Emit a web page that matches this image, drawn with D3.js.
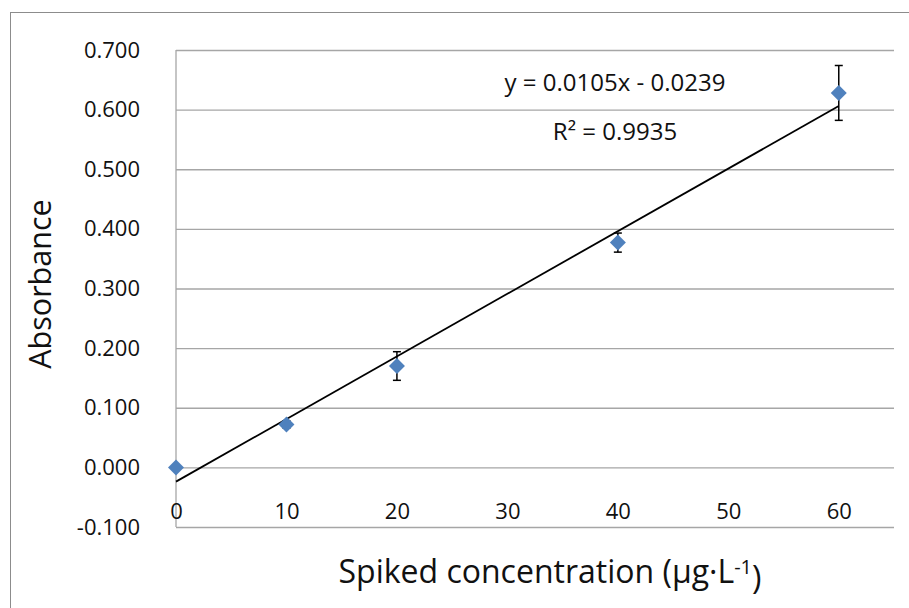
<!DOCTYPE html>
<html>
<head>
<meta charset="utf-8">
<script src="https://cdn.jsdelivr.net/npm/d3@7"></script>
<style>
  body { margin: 0; background: #fff; }
  text { font-family: "Open Sans", "Noto Sans", sans-serif; fill: #111; }
</style>
</head>
<body>
<div id="canvas"></div>
<script>
// data
var conc = [0, 10, 20, 40, 60];
var absorb = [0.000, 0.072, 0.170, 0.377, 0.628];
var errs = [0, 0.006, 0.024, 0.016, 0.046];
var xTicks = [0, 10, 20, 30, 40, 50, 60];
var yTicks = [-0.1, 0, 0.1, 0.2, 0.3, 0.4, 0.5, 0.6, 0.7];
var slope = 0.0105, intercept = -0.0239, r2 = 0.9935;

var W = 909, H = 608;
var m = {t:50, r:15, b:81, l:176};
var w = W - m.l - m.r,
    h = H - m.t - m.b;

var svg = d3.select('#canvas')
    .append('svg')
    .attr('width', W)
    .attr('height', H);

// chart border (right/bottom fall outside the picture)
svg.append('rect')
    .attr('x', 10.5).attr('y', 12.5)
    .attr('width', W + 10).attr('height', H + 10)
    .attr('fill', 'none')
    .attr('stroke', '#8c8c8c');

var plot = svg.append('g')
    .attr('transform', 'translate(' + m.l + ',' + m.t + ')');

var scaleX = d3.scaleLinear().domain([0, 65]).range([0, w]);
var scaleY = d3.scaleLinear().domain([-0.1, 0.7]).range([h, 0]);

// y axis + gridlines
var axisY = d3.axisLeft(scaleY)
    .tickValues(yTicks)
    .tickFormat(function(d){ return d.toFixed(3); })
    .tickSize(-w)
    .tickPadding(36);

var gy = plot.append('g').attr('class', 'axis-y').call(axisY);
gy.select('.domain').remove();
gy.selectAll('line').attr('stroke', '#a6a6a6').attr('stroke-width', 1.3).attr('x1', 0);
gy.selectAll('text').style('font-size', '22px').attr('fill', '#111');

// left axis line
plot.append('line')
    .attr('x1', 0).attr('x2', 0)
    .attr('y1', 0).attr('y2', h)
    .attr('stroke', '#a6a6a6').attr('stroke-width', 1.3);

// x labels sit just above the bottom line
var axisX = d3.axisTop(scaleX)
    .tickValues(xTicks)
    .tickSize(0)
    .tickPadding(8);
var gx = plot.append('g')
    .attr('transform', 'translate(0,' + h + ')')
    .call(axisX);
gx.select('.domain').remove();
gx.selectAll('text').style('font-size', '22px').attr('fill', '#111');

// trend line over data range
var xr = d3.extent(conc);
plot.append('line')
    .attr('x1', scaleX(xr[0])).attr('y1', scaleY(slope * xr[0] + intercept))
    .attr('x2', scaleX(xr[1])).attr('y2', scaleY(slope * xr[1] + intercept))
    .attr('stroke', '#000').attr('stroke-width', 1.8);

var pts = conc.map(function(c, i){ return {x: c, y: absorb[i], e: errs[i]}; });

// error bars
var eb = plot.selectAll('.err').data(pts.filter(function(d){ return d.e > 0; }))
    .enter().append('g').attr('class', 'err')
    .attr('stroke', '#000').attr('stroke-width', 1.5);
eb.append('line')
    .attr('x1', function(d){ return scaleX(d.x); })
    .attr('x2', function(d){ return scaleX(d.x); })
    .attr('y1', function(d){ return scaleY(d.y + d.e); })
    .attr('y2', function(d){ return scaleY(d.y - d.e); });
[1, -1].forEach(function(s){
    eb.append('line')
        .attr('x1', function(d){ return scaleX(d.x) - 4; })
        .attr('x2', function(d){ return scaleX(d.x) + 4; })
        .attr('y1', function(d){ return scaleY(d.y + s * d.e); })
        .attr('y2', function(d){ return scaleY(d.y + s * d.e); });
});

// diamond markers
plot.selectAll('.pt').data(pts)
    .enter().append('path').attr('class', 'pt')
    .attr('d', 'M0,-8L8,0L0,8L-8,0Z')
    .attr('transform', function(d){ return 'translate(' + scaleX(d.x) + ',' + scaleY(d.y) + ')'; })
    .attr('fill', '#4f81bd');

// equation labels
plot.append('text')
    .attr('x', 615 - m.l).attr('y', 83 - m.t)
    .attr('dy', '0.35em')
    .attr('text-anchor', 'middle')
    .style('font-size', '24px')
    .text('y = ' + slope + 'x - ' + Math.abs(intercept));
plot.append('text')
    .attr('x', 615 - m.l).attr('y', 132 - m.t)
    .attr('dy', '0.35em')
    .attr('text-anchor', 'middle')
    .style('font-size', '24px')
    .text('R² = ' + r2);

// axis titles
svg.append('text')
    .attr('transform', 'translate(40,284) rotate(-90)')
    .attr('dy', '0.35em')
    .attr('text-anchor', 'middle')
    .style('font-size', '30.5px')
    .text('Absorbance');

var xt = svg.append('text')
    .attr('x', 550).attr('y', 572)
    .attr('dy', '0.35em')
    .attr('text-anchor', 'middle')
    .style('font-size', '32px');
xt.append('tspan').text('Spiked concentration (µg·L');
xt.append('tspan').attr('dy', '-0.45em').style('font-size', '20px').text('-1');
xt.append('tspan').attr('dy', '0.45em').text(')');
</script>
</body>
</html>
